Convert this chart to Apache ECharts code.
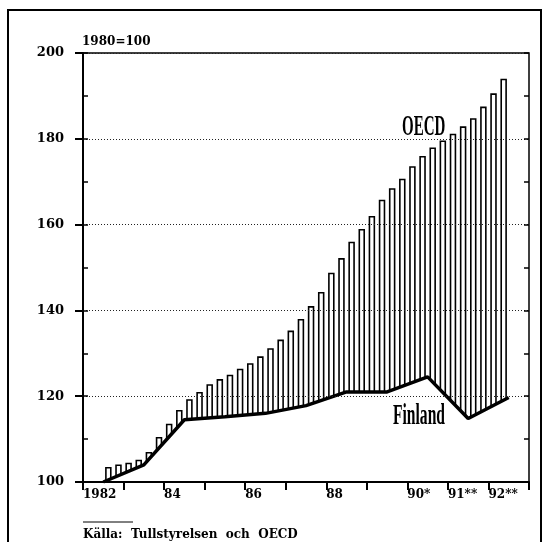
<!DOCTYPE html>
<html>
<head>
<meta charset="utf-8">
<script src="https://cdn.jsdelivr.net/npm/echarts@6/dist/echarts.min.js"></script>
<style>
html, body { margin: 0; padding: 0; background: #fff; }
#chart { width: 545px; height: 542px; }
</style>
</head>
<body>
<div id="chart"></div>
<script>
// Finland, annual values (plotted mid-year), 1980=100
var finlandYears = [1982, 1983, 1984, 1985, 1986, 1987, 1988, 1989, 1990, 1991, 1992];
var finland = [100, 104, 114.5, 115.2, 116, 117.8, 121, 121, 124.5, 114.8, 119.7];

// OECD, quarterly values from 1982 Q3 to 1992 Q2
var oecdStart = 1982.5;
var oecd = [103.5, 104.1, 104.5, 105.2, 107, 110.5, 113.6, 116.8,
            119.3, 121, 122.8, 124, 125, 126.4, 127.7, 129.3,
            131.2, 133.2, 135.3, 138, 141, 144.3, 148.8, 152.2,
            156, 159, 162, 165.8, 168.5, 170.7, 173.6, 176,
            178, 179.6, 181.2, 182.9, 184.8, 187.5, 190.6, 194];

// x tick labels
var xLabels = { 1982: '1982', 1984: '84', 1986: '86', 1988: '88', 1990: '90*', 1991: '91**', 1992: '92**' };

var serif = 'DejaVu Serif';

var finlandData = finlandYears.map(function (y, i) { return [y + 0.5, finland[i]]; });
var oecdData = oecd.map(function (v, i) { return [oecdStart + 0.125 + i * 0.25, v]; });

var myChart = echarts.init(document.getElementById('chart'));

var option = {
    animation: false,
    backgroundColor: '#fff',
    grid: {
        left: 83, right: 16, top: 53, bottom: 60,
        show: true, borderColor: '#000', borderWidth: 1.5,
        outerBoundsMode: 'none'
    },
    xAxis: {
        type: 'value', min: 1982, max: 1993, interval: 1, z: 10,
        axisLine: { lineStyle: { color: '#000', width: 2 } },
        axisTick: { length: 8, lineStyle: { color: '#000', width: 2 } },
        splitLine: { show: false },
        axisLabel: {
            margin: 7, align: 'left', color: '#000',
            fontFamily: serif, fontWeight: 'bold', fontSize: 12,
            showMaxLabel: true,
            formatter: function (v) { return xLabels[v] || ''; }
        }
    },
    yAxis: [{
        type: 'value', min: 100, max: 200, interval: 20, z: 10,
        axisLine: { show: true, lineStyle: { color: '#000', width: 2 } },
        axisTick: { show: true, length: 8, lineStyle: { color: '#000', width: 2 } },
        splitLine: { show: true, lineStyle: { color: '#222', width: 1, type: [1, 2] } },
        axisLabel: {
            margin: 19, color: '#000',
            fontFamily: serif, fontWeight: 'bold', fontSize: 13
        }
    }, {
        type: 'value', min: 100, max: 200, interval: 10, position: 'left', z: 10,
        axisLine: { show: false },
        axisTick: { show: true, inside: true, length: 5, lineStyle: { color: '#000', width: 1.5 } },
        splitLine: { show: false },
        axisLabel: { show: false }
    }, {
        type: 'value', min: 100, max: 200, interval: 10, position: 'right', z: 10,
        axisLine: { show: false },
        axisTick: { show: true, inside: true, length: 5, lineStyle: { color: '#000', width: 1.5 } },
        splitLine: { show: false },
        axisLabel: { show: false }
    }],
    series: [{
        name: 'OECD',
        type: 'bar',
        z: 2,
        barWidth: 6.5,
        data: oecdData,
        itemStyle: { color: 'rgba(0,0,0,0)', borderColor: '#000', borderWidth: 1.6 }
    }, {
        name: 'Finland',
        type: 'line',
        z: 3,
        symbol: 'none',
        data: finlandData,
        lineStyle: { color: '#000', width: 3.5 },
        areaStyle: { color: '#fff', opacity: 1, origin: 'start' }
    }],
    graphic: [{
        type: 'rect', z: 20,
        shape: { x: 8, y: 10, width: 533, height: 560 },
        style: { fill: 'none', stroke: '#000', lineWidth: 2 }
    }, {
        type: 'text', z: 20, x: 82, y: 42,
        style: { text: '1980=100', fill: '#000', font: 'bold 12px "DejaVu Serif"', align: 'left', verticalAlign: 'middle' }
    }, {
        type: 'text', z: 20, x: 402, y: 127, scaleX: 0.5,
        style: { text: 'OECD', fill: '#000', font: 'bold 30px "Liberation Serif"', align: 'left', verticalAlign: 'middle' }
    }, {
        type: 'text', z: 20, x: 393, y: 416, scaleX: 0.52,
        style: { text: 'Finland', fill: '#000', font: 'bold 30px "Liberation Serif"', align: 'left', verticalAlign: 'middle' }
    }, {
        type: 'line', z: 20,
        shape: { x1: 83, y1: 522, x2: 133, y2: 522 },
        style: { stroke: '#000', lineWidth: 1 }
    }, {
        type: 'text', z: 20, x: 83, y: 535,
        style: { text: 'Källa:  Tullstyrelsen  och  OECD', fill: '#000', font: 'bold 12px "DejaVu Serif"', align: 'left', verticalAlign: 'middle' }
    }]
};

myChart.setOption(option);
</script>
</body>
</html>
